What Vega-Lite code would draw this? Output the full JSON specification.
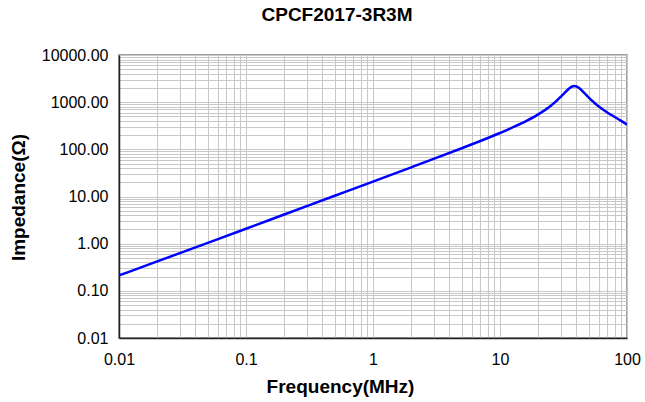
{
  "$schema": "https://vega.github.io/schema/vega-lite/v6.json",
  "width": 508,
  "height": 283,
  "autosize": {"type": "none"},
  "padding": {"left": 119, "top": 55, "right": 18, "bottom": 64},
  "background": "white",
  "title": {
    "text": "CPCF2017-3R3M",
    "font": "Liberation Sans",
    "fontSize": 19,
    "fontWeight": "bold",
    "color": "black",
    "anchor": "middle",
    "frame": "group",
    "dx": -36,
    "offset": 22
  },
  "config": {
    "view": {"stroke": "#808080", "strokeWidth": 1.5},
    "font": "Liberation Sans"
  },
  "data": {
    "values": [
      {"f": 0.01, "z": 0.212},
      {"f": 0.02, "z": 0.42},
      {"f": 0.05, "z": 1.04},
      {"f": 0.1, "z": 2.07},
      {"f": 0.2, "z": 4.15},
      {"f": 0.5, "z": 10.37},
      {"f": 1, "z": 20.75},
      {"f": 2, "z": 41.6},
      {"f": 3, "z": 62.6},
      {"f": 5, "z": 105.5},
      {"f": 7, "z": 150},
      {"f": 10, "z": 222},
      {"f": 15, "z": 362},
      {"f": 20, "z": 550},
      {"f": 25, "z": 832},
      {"f": 28, "z": 1079},
      {"f": 30, "z": 1291},
      {"f": 32, "z": 1540},
      {"f": 34, "z": 1810},
      {"f": 36, "z": 2060},
      {"f": 37, "z": 2150},
      {"f": 38.5, "z": 2200},
      {"f": 40, "z": 2150},
      {"f": 42, "z": 1990},
      {"f": 45, "z": 1670},
      {"f": 50, "z": 1250},
      {"f": 55, "z": 983},
      {"f": 60, "z": 811},
      {"f": 70, "z": 606},
      {"f": 80, "z": 485},
      {"f": 90, "z": 400},
      {"f": 100, "z": 335}
    ]
  },
  "mark": {"type": "line", "color": "#0000FF", "strokeWidth": 2.5, "interpolate": "monotone", "clip": true},
  "encoding": {
    "x": {
      "field": "f",
      "type": "quantitative",
      "scale": {"type": "log", "domain": [0.01, 100], "nice": false},
      "axis": {
        "title": "Frequency(MHz)",
        "titleFont": "Liberation Sans",
        "titleFontSize": 19,
        "titleFontWeight": "bold",
        "titleColor": "black",
        "titleX": 221,
        "titleY": 54,
        "titleBaseline": "alphabetic",
        "values": [0.01,0.02,0.03,0.04,0.05,0.06,0.07,0.08,0.09,0.1,0.2,0.3,0.4,0.5,0.6,0.7,0.8,0.9,1,2,3,4,5,6,7,8,9,10,20,30,40,50,60,70,80,90,100],
        "format": "~g",
        "labelExpr": "indexof([0.01,0.1,1,10,100], datum.value) >= 0 ? datum.label : ''",
        "labelFont": "Liberation Sans",
        "labelFontSize": 16,
        "labelColor": "black",
        "labelPadding": 13,
        "labelOverlap": false,
        "labelFlush": false,
        "labelBound": false,
        "ticks": false,
        "grid": true,
        "gridColor": "#c8c8c8",
        "gridWidth": 1,
        "domainColor": "#222222",
        "domainWidth": 1.5
      }
    },
    "y": {
      "field": "z",
      "type": "quantitative",
      "scale": {"type": "log", "domain": [0.01, 10000], "nice": false},
      "axis": {
        "title": "Impedance(Ω)",
        "titleFont": "Liberation Sans",
        "titleFontSize": 19,
        "titleFontWeight": "bold",
        "titleColor": "black",
        "titleX": -95,
        "titleY": 142,
        "titleBaseline": "alphabetic",
        "titleAngle": -90,
        "values": [0.01,0.02,0.03,0.04,0.05,0.06,0.07,0.08,0.09,0.1,0.2,0.3,0.4,0.5,0.6,0.7,0.8,0.9,1,2,3,4,5,6,7,8,9,10,20,30,40,50,60,70,80,90,100,200,300,400,500,600,700,800,900,1000,2000,3000,4000,5000,6000,7000,8000,9000,10000],
        "format": ".2f",
        "labelExpr": "indexof([0.01,0.1,1,10,100,1000,10000], datum.value) >= 0 ? datum.label : ''",
        "labelFont": "Liberation Sans",
        "labelFontSize": 16,
        "labelColor": "black",
        "labelPadding": 11,
        "labelOverlap": false,
        "labelFlush": false,
        "labelBound": false,
        "ticks": false,
        "grid": true,
        "gridColor": "#c8c8c8",
        "gridWidth": 1,
        "domainColor": "#222222",
        "domainWidth": 1.5
      }
    }
  }
}
